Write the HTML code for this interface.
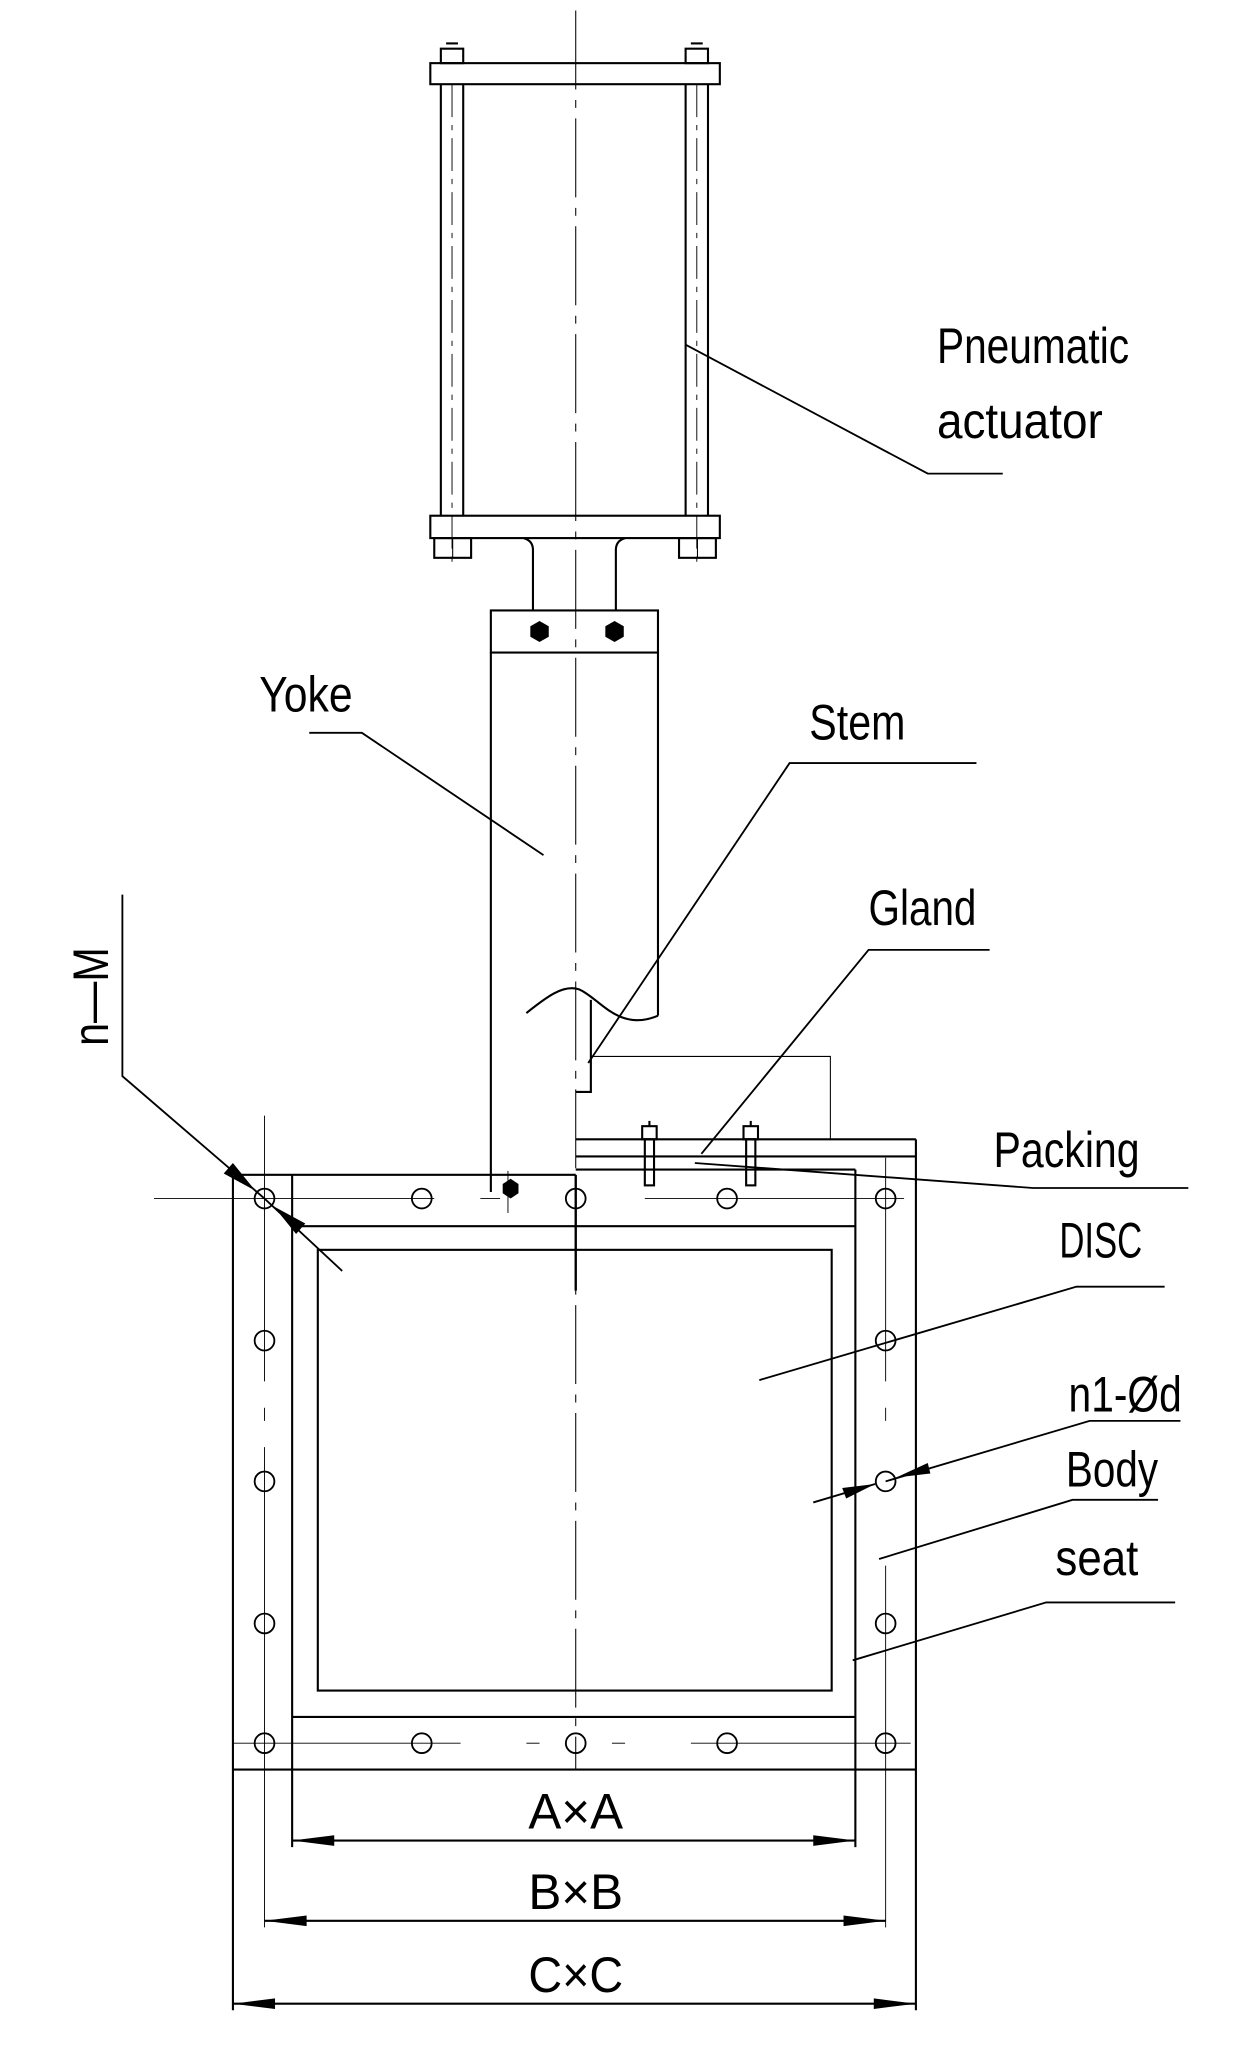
<!DOCTYPE html>
<html><head><meta charset="utf-8"><style>
html,body{margin:0;padding:0;background:#fff;}
svg{display:block;}
text{font-family:"Liberation Sans",sans-serif;fill:#000;}
</style></head><body>
<svg width="1237" height="2055" viewBox="0 0 940 1562" preserveAspectRatio="none" xmlns="http://www.w3.org/2000/svg">
<g fill="none" stroke="#000" stroke-width="1.6">
<!-- center line -->
<line x1="437.5" y1="8" x2="437.5" y2="1345" stroke-width="0.8" stroke-dasharray="60,8,6,8"/>
<!-- actuator top plate -->
<rect x="327" y="48" width="220" height="16"/>
<rect x="335" y="37" width="17" height="11"/><rect x="521" y="37" width="17" height="11"/>
<line x1="339" y1="33" x2="348" y2="33"/><line x1="525" y1="33" x2="534" y2="33"/>
<!-- rods -->
<line x1="335" y1="64" x2="335" y2="392"/><line x1="352" y1="64" x2="352" y2="392"/>
<line x1="521" y1="64" x2="521" y2="392"/><line x1="538" y1="64" x2="538" y2="392"/>
<line x1="343.5" y1="64" x2="343.5" y2="432" stroke-width="0.7" stroke-dasharray="25,6,4,6"/>
<line x1="529.5" y1="64" x2="529.5" y2="432" stroke-width="0.7" stroke-dasharray="25,6,4,6"/>
<!-- bottom plate -->
<rect x="327" y="392" width="220" height="17"/>
<rect x="330" y="409" width="28" height="15"/><rect x="516" y="409" width="28" height="15"/>
<line x1="344" y1="409" x2="344" y2="424" stroke-width="0.8"/><line x1="530" y1="409" x2="530" y2="424" stroke-width="0.8"/>
<!-- neck -->
<path d="M398 409 Q405 411 405 418 L405 464 M475 409 Q468 411 468 418 L468 464"/>
<!-- clamp -->
<rect x="373" y="464" width="127" height="32"/>
<!-- yoke -->
<line x1="373" y1="496" x2="373" y2="906"/>
<line x1="500" y1="496" x2="500" y2="772"/>
<path d="M400 770 C415 758 428 748 440 752 C455 758 470 785 500 772"/>
<!-- stem -->
<path d="M449 760 L449 830 L437.5 830"/>
<path d="M449 803 L631 803 L631 866" stroke-width="0.8"/>
<!-- bonnet -->
<line x1="437.5" y1="866" x2="696" y2="866"/>
<line x1="437.5" y1="879" x2="696" y2="879"/>
<line x1="437.5" y1="889" x2="650" y2="889"/>
<line x1="696" y1="866" x2="696" y2="1345"/>
<!-- packing bolts -->
<rect x="488" y="856" width="11" height="10"/><rect x="490" y="866" width="7" height="35"/>
<rect x="565" y="856" width="11" height="10"/><rect x="567" y="866" width="7" height="35"/>
<line x1="493.5" y1="852" x2="493.5" y2="856"/><line x1="570.5" y1="852" x2="570.5" y2="856"/>
<!-- body -->
<line x1="177" y1="893" x2="437.5" y2="893"/>
<line x1="177" y1="893" x2="177" y2="1528"/>
<line x1="177" y1="1345" x2="696" y2="1345"/>
<line x1="696" y1="1345" x2="696" y2="1528"/>
<line x1="222" y1="893" x2="222" y2="1404"/>
<line x1="650" y1="889" x2="650" y2="1404"/>
<line x1="222" y1="932" x2="650" y2="932"/>
<line x1="222" y1="1305" x2="650" y2="1305"/>
<rect x="241.5" y="950" width="390.5" height="335"/>
<line x1="437.5" y1="893" x2="437.5" y2="981" stroke-width="1.8"/>
<!-- hole center lines -->
<g stroke-width="0.7">
<line x1="117" y1="911" x2="330" y2="911"/>
<line x1="365" y1="911" x2="380" y2="911"/>
<line x1="490" y1="911" x2="687" y2="911"/>
<line x1="177" y1="1325" x2="350" y2="1325"/>
<line x1="400" y1="1325" x2="410" y2="1325"/><line x1="465" y1="1325" x2="475" y2="1325"/>
<line x1="525" y1="1325" x2="692" y2="1325"/>
<line x1="201" y1="848" x2="201" y2="1050"/><line x1="201" y1="1070" x2="201" y2="1080"/><line x1="201" y1="1100" x2="201" y2="1465"/>
<line x1="673" y1="880" x2="673" y2="1050"/><line x1="673" y1="1070" x2="673" y2="1080"/><line x1="673" y1="1190" x2="673" y2="1465"/>
<line x1="386" y1="890" x2="386" y2="922"/>
</g>
<!-- holes -->
<g stroke-width="1.4">
<circle cx="201" cy="911" r="7.5"/><circle cx="320.5" cy="911" r="7.5"/><circle cx="437.5" cy="911" r="7.5"/><circle cx="552.5" cy="911" r="7.5"/><circle cx="673" cy="911" r="7.5"/>
<circle cx="201" cy="1019" r="7.5"/><circle cx="201" cy="1126" r="7.5"/><circle cx="201" cy="1234" r="7.5"/>
<circle cx="673" cy="1019" r="7.5"/><circle cx="673" cy="1126" r="7.5"/><circle cx="673" cy="1234" r="7.5"/>
<circle cx="201" cy="1325" r="7.5"/><circle cx="320.5" cy="1325" r="7.5"/><circle cx="437.5" cy="1325" r="7.5"/><circle cx="552.5" cy="1325" r="7.5"/><circle cx="673" cy="1325" r="7.5"/>
</g>
<!-- dimension lines -->
<line x1="222" y1="1399" x2="650" y2="1399"/>
<line x1="201" y1="1460" x2="673" y2="1460"/>
<line x1="177" y1="1523" x2="696" y2="1523"/>
<!-- leaders -->
<g stroke-width="1.4">
<path d="M521 262 L705 360 L762 360"/>
<path d="M235 557 L275 557 L413 650"/>
<path d="M742 580 L600 580 L447 808"/>
<path d="M752 722 L660 722 L533 877"/>
<path d="M528 884 L785 903 L903 903"/>
<path d="M885 978 L818 978 L577 1049"/>
<path d="M897 1080 L828 1080 L673 1126"/>
<path d="M618 1142 L665 1128"/>
<path d="M880 1140 L815 1140 L668 1185"/>
<path d="M893 1218 L795 1218 L648 1262"/>
<path d="M93 680 L93 818 L201 911 L260 966"/>
</g>
</g>
<g fill="#000" stroke="none">
<!-- hex nuts -->
<polygon points="410,472 417,476 417,484 410,488 403,484 403,476"/>
<polygon points="467,472 474,476 474,484 467,488 460,484 460,476"/>
<polygon points="388,896 394,900 394,907 388,911 382,907 382,900"/>
<!-- arrowheads dims -->
<polygon points="222,1399 254,1395 254,1403"/><polygon points="650,1399 618,1395 618,1403"/>
<polygon points="201,1460 233,1456 233,1464"/><polygon points="673,1460 641,1456 641,1464"/>
<polygon points="177,1523 209,1519 209,1527"/><polygon points="696,1523 664,1519 664,1527"/>
<!-- n-M arrows -->
<polygon points="194,905 170,892 177,884"/>
<polygon points="208,917 232,930 225,938"/>
<!-- n1 arrows -->
<polygon points="681,1123 705,1112 707,1120"/>
<polygon points="665,1128 640,1131 643,1139"/>
</g>
<!-- labels -->
<g font-size="38">
<text x="712" y="276" textLength="146" lengthAdjust="spacingAndGlyphs">Pneumatic</text>
<text x="712" y="333" textLength="126" lengthAdjust="spacingAndGlyphs">actuator</text>
<text x="197" y="541" textLength="71" lengthAdjust="spacingAndGlyphs">Yoke</text>
<text x="615" y="562" textLength="73" lengthAdjust="spacingAndGlyphs">Stem</text>
<text x="660" y="703" textLength="82" lengthAdjust="spacingAndGlyphs">Gland</text>
<text x="755" y="887" textLength="111" lengthAdjust="spacingAndGlyphs">Packing</text>
<text x="805" y="956" textLength="63" lengthAdjust="spacingAndGlyphs">DISC</text>
<text x="812" y="1073" textLength="86" lengthAdjust="spacingAndGlyphs">n1-Ød</text>
<text x="810" y="1130" textLength="70" lengthAdjust="spacingAndGlyphs">Body</text>
<text x="802" y="1197" textLength="63" lengthAdjust="spacingAndGlyphs">seat</text>
<text transform="translate(82,795) rotate(-90)" textLength="75" lengthAdjust="spacingAndGlyphs">n—M</text>
<text x="437.5" y="1390" text-anchor="middle" textLength="72" lengthAdjust="spacingAndGlyphs">A×A</text>
<text x="437.5" y="1451" text-anchor="middle" textLength="72" lengthAdjust="spacingAndGlyphs">B×B</text>
<text x="437.5" y="1514" text-anchor="middle" textLength="72" lengthAdjust="spacingAndGlyphs">C×C</text>
</g>
</svg>
</body></html>
